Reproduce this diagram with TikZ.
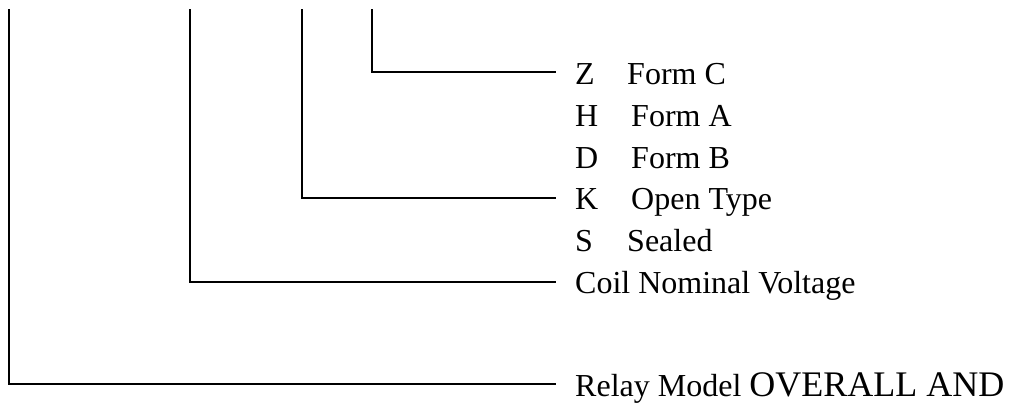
\documentclass[tikz,border=0pt]{standalone}
\usepackage{fontspec}
\setmainfont{Liberation Serif}
\begin{document}
\begin{tikzpicture}[x=1pt,y=-1pt,
  ln/.style={line width=1.3pt, line cap=rect},
  lbl/.style={anchor=base west, inner sep=0pt, font=\fontsize{32}{36}\selectfont}]
\useasboundingbox (0,0) rectangle (1016,410);
% corner coordinates
\coordinate (t1) at (9,10);   \coordinate (c1) at (9,384);   \coordinate (e1) at (555,384);
\coordinate (t2) at (190,10); \coordinate (c2) at (190,282); \coordinate (e2) at (555,282);
\coordinate (t3) at (302,10); \coordinate (c3) at (302,198); \coordinate (e3) at (555,198);
\coordinate (t4) at (372,10); \coordinate (c4) at (372,72);  \coordinate (e4) at (555,72);
\draw[ln] (t1) -- (c1) -- (e1);
\draw[ln] (t2) -- (c2) -- (e2);
\draw[ln] (t3) -- (c3) -- (e3);
\draw[ln] (t4) -- (c4) -- (e4);
% labels
\node[lbl] (z)  at (575,84) {Z};  \node[lbl] (zt) at (627,84) {Form C};
\node[lbl] (h)  at (575,126) {H}; \node[lbl] (ht) at (631,126) {Form A};
\node[lbl] (d)  at (575,168) {D}; \node[lbl] (dt) at (631,168) {Form B};
\node[lbl] (k)  at (575,209) {K}; \node[lbl] (kt) at (631,209) {Open Type};
\node[lbl] (s)  at (575,251) {S}; \node[lbl] (st) at (627,251) {Sealed};
\node[lbl] (cv) at (575,293) {Coil Nominal Voltage};
\node[lbl] (rm) at (575,396) {Relay Model \fontsize{36}{40}\selectfont OVERALL AND};
\end{tikzpicture}
\end{document}
